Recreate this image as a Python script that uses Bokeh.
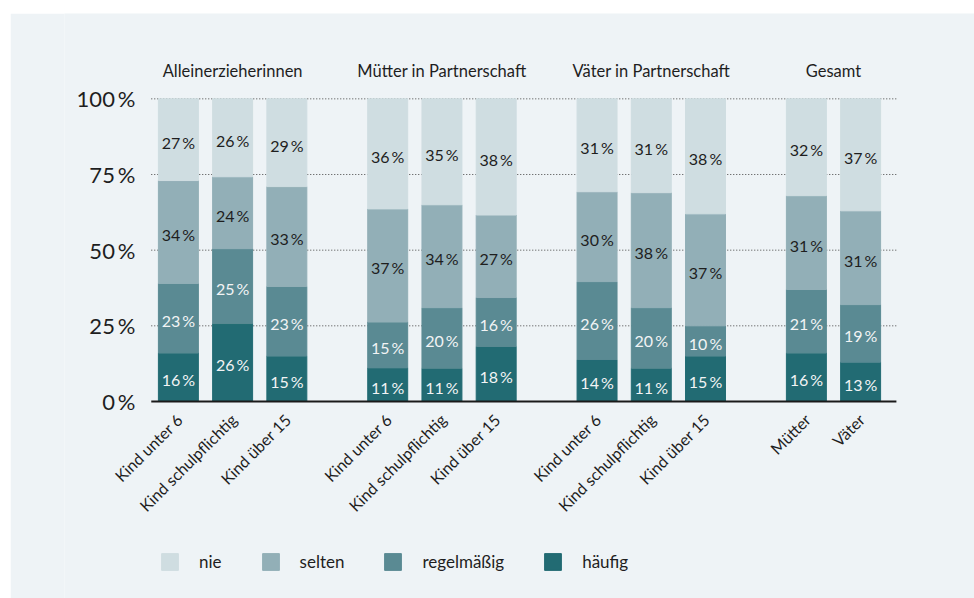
import numpy as np
from bokeh.plotting import figure
from bokeh.models import (FactorRange, ColumnDataSource, Range1d,
                          Legend, LegendItem)
from bokeh.core.properties import value
from bokeh.embed import file_html
from bokeh.resources import INLINE

# ---------------- data ----------------
groups = ["Alleinerzieherinnen", "Mütter in Partnerschaft",
          "Väter in Partnerschaft", "Gesamt"]
categories = [
    ["Kind unter 6", "Kind schulpflichtig", "Kind über 15"],
    ["Kind unter 6", "Kind schulpflichtig", "Kind über 15"],
    ["Kind unter 6", "Kind schulpflichtig", "Kind über 15"],
    ["Mütter", "Väter"],
]
haeufig      = [16, 26, 15, 11, 11, 18, 14, 11, 15, 16, 13]
regelmaessig = [23, 25, 23, 15, 20, 16, 26, 20, 10, 21, 19]
selten       = [34, 24, 33, 37, 34, 27, 30, 38, 37, 31, 31]
nie          = [27, 26, 29, 36, 35, 38, 31, 31, 38, 32, 37]
series_names = ["häufig", "regelmäßig", "selten", "nie"]
y_ticks = [0, 25, 50, 75, 100]
y_tick_labels = ["0\u2009%", "25\u2009%", "50\u2009%", "75\u2009%", "100\u2009%"]

# ---------------- style ----------------
FONT = "Lato"
PANEL = "#EEF3F6"
DARK = "#1E1E1E"
colors = ["#226B73", "#5A8A93", "#92AFB7", "#CFDDE1"]
label_colors = ["#F2F4F5", "#F2F4F5", DARK, DARK]

factors = [(g, c) for g, cs in zip(groups, categories) for c in cs]
series = [haeufig, regelmaessig, selten, nie]
keys = ["h", "r", "s", "n"]
arr = np.array(series, dtype=float)
totals = arr.sum(axis=0)
norm = arr / totals * 100.0

data = {"x": factors}
for k, row in zip(keys, norm):
    data[k] = list(row)
src = ColumnDataSource(data)

p = figure(x_range=FactorRange(*factors, factor_padding=0.0, group_padding=0.86,
                               range_padding=1.6, range_padding_units="absolute"),
           y_range=Range1d(-65.1, 128.2),
           width=964, height=585, output_backend="svg", toolbar_location=None,
           min_border_left=54, min_border_right=0, min_border_top=0,
           min_border_bottom=0)
p.margin = (13, 0, 0, 10)
p.background_fill_color = PANEL
p.border_fill_color = PANEL
p.outline_line_color = None
p.xaxis.visible = False
p.yaxis.visible = False
p.xgrid.visible = False
p.ygrid.visible = False

# plot-area extent (left edge of first bar slot, right edge past last bar)
x_left = (*factors[0], -0.5)
x_right = (*factors[-1], 0.66)

# dotted horizontal grid lines
grid_y = y_ticks[1:]
p.segment(x0=[x_left] * len(grid_y), x1=[x_right] * len(grid_y),
          y0=grid_y, y1=grid_y, line_color="#444444", line_width=1,
          line_dash="1 2")

renderers = p.vbar_stack(keys, x="x", width=0.737, color=colors, source=src)

# baseline (x axis line)
p.segment(x0=[x_left], x1=[x_right], y0=[0], y1=[0],
          line_color="#1A1A1A", line_width=2)

# y tick labels
p.text(x=[x_left] * len(y_ticks), y=y_ticks, text=y_tick_labels,
       x_offset=-16, text_color=DARK, text_align="right", text_baseline="middle",
       text_font=value(FONT), text_font_size="22px")

# segment labels
lx, ly, lt, lc = [], [], [], []
cum = np.zeros(len(factors))
for i, (k, row, raw) in enumerate(zip(keys, norm, series)):
    centers = cum + row / 2.0
    for j in range(len(factors)):
        lx.append(factors[j])
        ly.append(centers[j] - 0.8)
        lt.append(f"{raw[j]}\u2009%")
        lc.append(label_colors[i])
    cum = cum + row
lsrc = ColumnDataSource(dict(x=lx, y=ly, text=lt, color=lc))
p.text(x="x", y="y", text="text", text_color="color", source=lsrc,
       text_align="center", text_baseline="middle",
       text_font=value(FONT), text_font_size="16px")

# group titles
p.text(x=groups, y=[109.1] * len(groups), text=groups, text_color=DARK,
       text_align="center", text_baseline="middle",
       text_font=value(FONT), text_font_size="16.5px")

# category labels (rotated, below the baseline)
p.text(x=factors, y=[-5.0] * len(factors), text=[c for _, c in factors],
       text_color=DARK, angle=np.pi / 4, x_offset=1,
       text_align="right", text_baseline="middle",
       text_font=value(FONT), text_font_size="16px")

legend = Legend(items=[LegendItem(label=series_names[i], renderers=[renderers[i]])
                       for i in [3, 2, 1, 0]],
                location=(95, 26), orientation="horizontal",
                glyph_width=21, glyph_height=21, label_standoff=19, spacing=38,
                padding=0, margin=0, border_line_color=None,
                background_fill_alpha=0,
                label_text_font=FONT, label_text_font_size="17px",
                label_text_color=DARK)
p.add_layout(legend)

open("out.html", "w").write(file_html(p, INLINE))
